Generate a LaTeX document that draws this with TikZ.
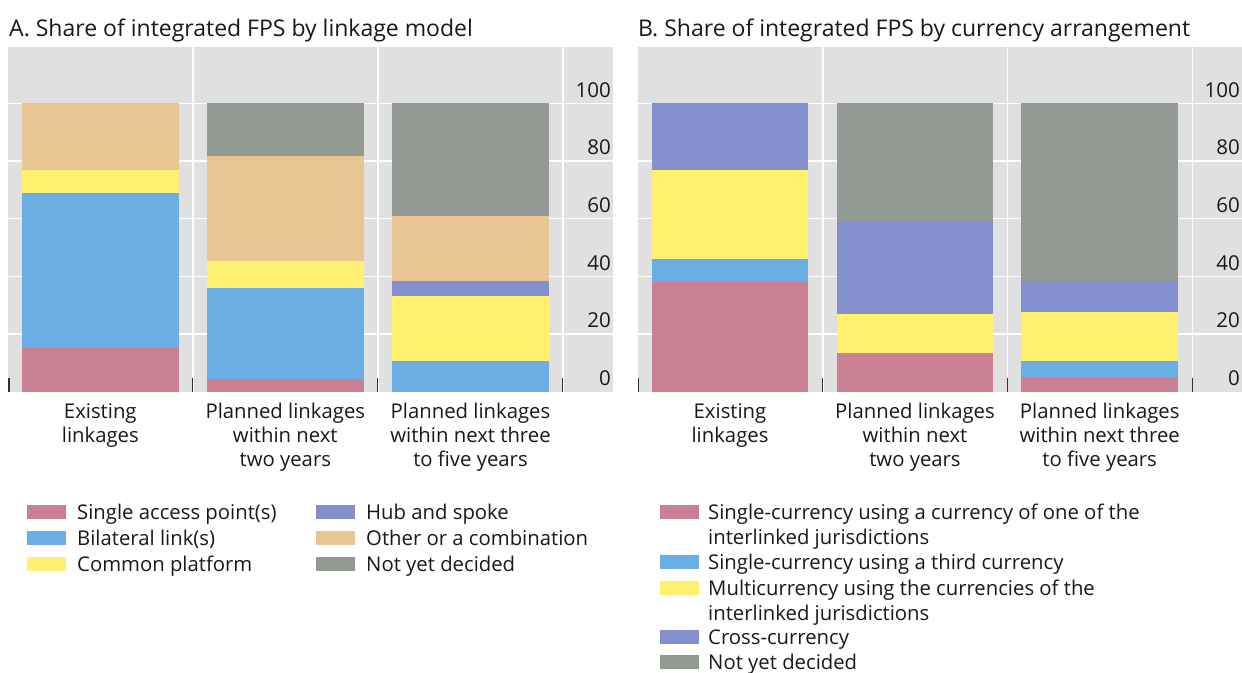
\documentclass[tikz,border=0pt]{standalone}
\usepackage{fontspec}
\setmainfont{Open Sans}
\definecolor{cpink}{RGB}{200,128,146}
\definecolor{cblue}{RGB}{106,174,228}
\definecolor{cyellow}{RGB}{255,240,112}
\definecolor{cpurple}{RGB}{132,144,206}
\definecolor{ctan}{RGB}{232,197,146}
\definecolor{cgrey}{RGB}{147,154,147}
\definecolor{bggrey}{RGB}{224,224,224}
\definecolor{tickc}{RGB}{50,50,50}
\definecolor{txt}{RGB}{25,25,25}
\begin{document}
\begin{tikzpicture}[x=1pt,y=-1pt,
  title/.style={anchor=base west, font=\fontsize{23}{27}\selectfont, inner sep=0pt, text=txt},
  catlabel/.style={anchor=north, align=center, font=\fontsize{20.3}{24}\selectfont, inner sep=0pt, text=txt},
  axlabel/.style={anchor=base east, font=\fontsize{20.5}{24}\selectfont, inner sep=0pt, text=txt},
  legtext/.style={anchor=base west, align=left, font=\fontsize{20.3}{24.5}\selectfont, inner sep=0pt, text=txt},
  legtextm/.style={anchor=north west, align=left, font=\fontsize{20.3}{24.5}\selectfont, inner sep=0pt, text=txt},
  swatch/.style={minimum width=39pt, minimum height=14pt, inner sep=0pt, anchor=west},
  gridl/.style={white, line width=1.6pt},
  tickmark/.style={tickc, line width=1.4pt}]
\useasboundingbox[fill=white] (0,0) rectangle (1242,672);

% titles
\node[title] (ta) at (9,36) {A. Share of integrated FPS by linkage model};
\node[title] (tb) at (638,36) {B. Share of integrated FPS by currency arrangement};

% backgrounds
\fill[bggrey] (8,47) rectangle (613,392);
\fill[bggrey] (638,47) rectangle (1242,392);

\begin{scope}[shift={(0,391.7)}, y=2.884pt]
  % horizontal gridlines
  \foreach \v in {20,40,60,80,100} {
    \draw[gridl] (8,\v) -- (613,\v);
    \draw[gridl] (638,\v) -- (1242,\v);
  }
  % vertical separators
  \foreach \x in {192.7,377.7,562.7,822.7,1007.3,1192.3} {
    \draw[gridl] (\x,0) -- (\x,119.5);
  }
  % Panel A bars
  \fill[cpink]   (21.7,0) rectangle (179,15);
  \fill[cblue]   (21.7,15) rectangle (179,69);
  \fill[cyellow] (21.7,69) rectangle (179,77);
  \fill[ctan]    (21.7,77) rectangle (179,100);

  \fill[cpink]   (206.7,0) rectangle (364,4.3);
  \fill[cblue]   (206.7,4.3) rectangle (364,36);
  \fill[cyellow] (206.7,36) rectangle (364,45.2);
  \fill[ctan]    (206.7,45.2) rectangle (364,81.8);
  \fill[cgrey]   (206.7,81.8) rectangle (364,100);

  \fill[cblue]   (391.7,0) rectangle (549.3,10.7);
  \fill[cyellow] (391.7,10.7) rectangle (549.3,33.2);
  \fill[cpurple] (391.7,33.2) rectangle (549.3,38.5);
  \fill[ctan]    (391.7,38.5) rectangle (549.3,61);
  \fill[cgrey]   (391.7,61) rectangle (549.3,100);

  % Panel B bars
  \fill[cpink]   (651.7,0) rectangle (808.3,38.1);
  \fill[cblue]   (651.7,38.1) rectangle (808.3,45.9);
  \fill[cyellow] (651.7,45.9) rectangle (808.3,76.8);
  \fill[cpurple] (651.7,76.8) rectangle (808.3,100);

  \fill[cpink]   (836.7,0) rectangle (993.3,13.3);
  \fill[cyellow] (836.7,13.3) rectangle (993.3,26.9);
  \fill[cpurple] (836.7,26.9) rectangle (993.3,58.9);
  \fill[cgrey]   (836.7,58.9) rectangle (993.3,100);

  \fill[cpink]   (1021,0) rectangle (1178.3,5.2);
  \fill[cblue]   (1021,5.2) rectangle (1178.3,10.7);
  \fill[cyellow] (1021,10.7) rectangle (1178.3,27.5);
  \fill[cpurple] (1021,27.5) rectangle (1178.3,38.5);
  \fill[cgrey]   (1021,38.5) rectangle (1178.3,100);
\end{scope}

% tick marks
\foreach \x in {9,192.7,377.7,562.7,638.5,822.7,1007.3,1192.3} {
  \draw[tickmark] (\x,378) -- (\x,391.7);
}

% axis labels
\foreach \v/\yy in {100/97.1,80/154.8,60/212.5,40/270.1,20/327.8,0/385.5} {
  \node[axlabel] (axa\v) at (611,\yy) {\v};
  \node[axlabel] (axb\v) at (1240,\yy) {\v};
}

% category labels
\node[catlabel] (ca1) at (100.3,403) {Existing\\linkages};
\node[catlabel] (ca2) at (285.3,403) {Planned linkages\\within next\\two years};
\node[catlabel] (ca3) at (470.5,403) {Planned linkages\\within next three\\to five years};
\node[catlabel] (cb1) at (730,403) {Existing\\linkages};
\node[catlabel] (cb2) at (915,403) {Planned linkages\\within next\\two years};
\node[catlabel] (cb3) at (1099.7,403) {Planned linkages\\within next three\\to five years};

% legend A
\node[swatch, fill=cpink]   (sa1) at (27,512) {};
\node[swatch, fill=cblue]   (sa2) at (27,538) {};
\node[swatch, fill=cyellow] (sa3) at (27,564) {};
\node[swatch, fill=cpurple] (sa4) at (316,512) {};
\node[swatch, fill=ctan]    (sa5) at (316,538) {};
\node[swatch, fill=cgrey]   (sa6) at (316,564) {};
\node[legtext] (la1) at (77,519.3) {Single access point(s)};
\node[legtext] (la2) at (77,545.3) {Bilateral link(s)};
\node[legtext] (la3) at (77,571.3) {Common platform};
\node[legtext] (la4) at (366,519.3) {Hub and spoke};
\node[legtext] (la5) at (366,545.3) {Other or a combination};
\node[legtext] (la6) at (366,571.3) {Not yet decided};

% legend B
\node[swatch, fill=cpink]   (sb1) at (660,512) {};
\node[swatch, fill=cblue]   (sb2) at (660,562) {};
\node[swatch, fill=cyellow] (sb3) at (660,588) {};
\node[swatch, fill=cpurple] (sb4) at (660,637) {};
\node[swatch, fill=cgrey]   (sb5) at (660,662) {};
\node[legtextm] (lb1) at (708,504) {Single-currency using a currency of one of the\\interlinked jurisdictions};
\node[legtext] (lb2) at (708,569.3) {Single-currency using a third currency};
\node[legtextm] (lb3) at (708,580) {Multicurrency using the currencies of the\\interlinked jurisdictions};
\node[legtext] (lb4) at (708,644.3) {Cross-currency};
\node[legtext] (lb5) at (708,669.3) {Not yet decided};
\end{tikzpicture}
\end{document}
